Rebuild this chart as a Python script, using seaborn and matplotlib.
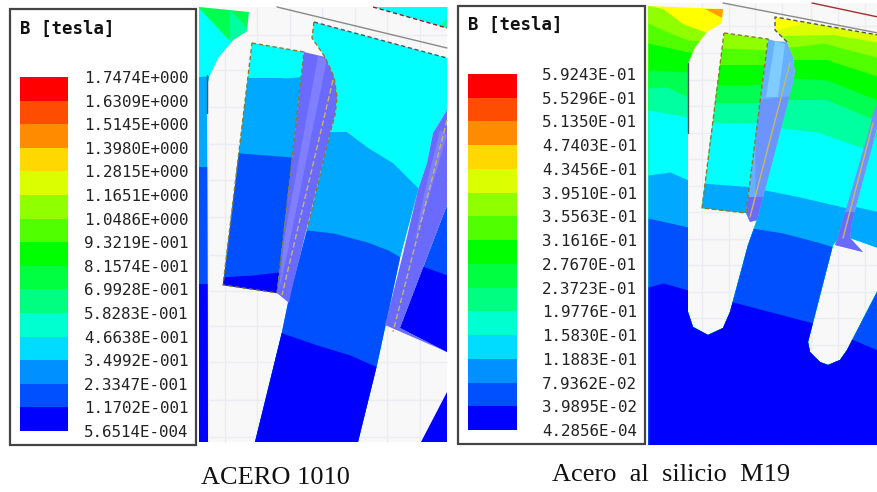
"""Campo B [tesla] en ranura de motor: ACERO 1010 contra acero al silicio M19."""

import numpy as np
import matplotlib
matplotlib.use("Agg")
import matplotlib.pyplot as plt
from matplotlib.colors import BoundaryNorm, ListedColormap
from matplotlib.patches import Polygon, Rectangle
import seaborn as sns

W, H = 878, 492

# ─── leyendas ────────────────────────────────────────────────
LEFT_LABELS = ["1.7474E+000", "1.6309E+000", "1.5145E+000", "1.3980E+000", "1.2815E+000",
               "1.1651E+000", "1.0486E+000", "9.3219E-001", "8.1574E-001", "6.9928E-001",
               "5.8283E-001", "4.6638E-001", "3.4992E-001", "2.3347E-001", "1.1702E-001",
               "5.6514E-004"]
RIGHT_LABELS = ["5.9243E-01", "5.5296E-01", "5.1350E-01", "4.7403E-01", "4.3456E-01",
                "3.9510E-01", "3.5563E-01", "3.1616E-01", "2.7670E-01", "2.3723E-01",
                "1.9776E-01", "1.5830E-01", "1.1883E-01", "7.9362E-02", "3.9895E-02",
                "4.2856E-04"]
LEGEND_COLORS = ["#ff0000", "#ff4d00", "#ff8c00", "#ffd800", "#dcff00", "#90ff00", "#50ff00",
                 "#00ff00", "#00ff40", "#00ff80", "#00ffd0", "#00dcff", "#0090ff", "#0050ff",
                 "#0000ff"]

# colores de banda en el campo
FIELD = ["#0000ff", "#0050ff", "#00a8ff", "#00ffff", "#00ffa0", "#00ff50", "#00ff00",
         "#50ff00", "#90ff00", "#dcff00", "#ffff00", "#ffa000"]

# ─── panel izquierdo ─────────────────────────────────────────
L_GRID_X = [208, 225, 257, 290, 322, 355, 387, 420]
L_GRID_Y = [35, 70, 107, 144, 180, 217, 255, 291, 326, 362, 400, 437]

L_STRIP = [(199, 7), (249, 12), (247, 31), (233, 40), (218, 58), (209, 77), (207, 87), (207, 113),
           (208, 442), (199, 442)]
L_STRIP_BANDS = [(5, [195, 260], [0, 0]),
                 (4, [230, 250], [10, 31]),
                 (3, [199, 227, 250], [8, 38, 60]),
                 (2, [195, 215], [77, 75]),
                 (1, [195, 215], [167, 167]),
                 (0, [195, 215], [284, 284])]

L_TOOTH = [(314, 22), (312, 38), (325, 57), (334, 77), (337, 97), (335, 115), (330, 133), (307, 230),
           (289, 298), (282, 332), (255, 442), (358, 442), (377, 365), (400, 258), (418, 190),
           (427, 163), (433, 133), (447, 110), (447, 58)]
L_TOOTH_BANDS = [(3, [250, 450], [0, 0]),
                 (2, [250, 330, 347, 367, 393, 418, 450], [132, 132, 132, 147, 163, 188, 210]),
                 (1, [250, 307, 333, 367, 388, 402, 450], [226, 230, 233, 242, 250, 258, 275]),
                 (0, [250, 282, 317, 350, 377, 450], [320, 333, 345, 355, 367, 395])]

L_COIL = [(252, 43), (304, 52), (277, 293), (223, 285)]
L_COIL_BANDS = [(3, [220, 310], [0, 0]),
                (2, [220, 250, 283, 310], [78, 78, 78, 76]),
                (1, [220, 240, 292, 310], [153, 153, 157, 157]),
                (0, [220, 253, 278, 310], [277, 275, 272, 270])]

L_TOPRIGHT = [(373, 7), (447, 28), (447, 7)]
L_TOPRIGHT_BANDS = [(3, [370, 450], [0, 0]), (4, [436, 447], [28, 17])]

L_COIL2 = [(447, 205), (400, 328), (447, 352)]
L_COIL2_BANDS = [(1, [395, 450], [150, 150]), (0, [395, 425, 447], [258, 267, 275])]

L_CORNER = [(421, 442), (447, 392), (447, 442)]
L_CORNER_BANDS = [(0, [415, 450], [350, 350])]

L_WEDGE1 = [(304, 52), (325, 57), (334, 77), (337, 97), (335, 115), (330, 133), (291, 293),
            (289, 303), (277, 293)]
L_STRIPE1 = [(318, 56), (327, 59), (288, 250), (279, 290), (284, 240)]
L_WEDGE2 = [(447, 110), (433, 133), (427, 163), (418, 190), (402, 258), (385, 325), (447, 352),
            (400, 328), (447, 205)]
L_STRIPE2 = [(447, 135), (440, 130), (425, 190), (415, 240), (422, 220)]
L_AXIS1 = [(333, 80), (282, 295)]
L_AXIS2 = [(447, 120), (393, 332)]
L_EDGE_DARK = [(207, 75), (207, 113)]
L_AIRGAP = [(277, 7), (447, 48)]

# ─── panel derecho ───────────────────────────────────────────
R_GRID_X = [702, 729, 755, 782, 811, 838, 865]
R_GRID_Y = [26, 53, 80, 106, 133, 159, 186, 212, 239, 265, 292, 318, 345, 371, 398, 424]

R_IRON = [(648, 6), (723, 9), (722, 23), (707, 32), (695, 47), (688, 63), (688, 312), (693, 327),
          (708, 335), (723, 328), (730, 312), (748, 245), (757, 220), (793, 83), (795, 72), (793, 57),
          (787, 42), (775, 30), (775, 17), (878, 35), (878, 103), (873, 113), (870, 127), (837, 240),
          (833, 245), (808, 342), (810, 352), (820, 362), (828, 365), (840, 360), (847, 350),
          (878, 290), (878, 445), (648, 445)]
R_IRON_BANDS = [(10, [640, 880], [0, 0]),
                (9, [640, 707, 775, 803, 880], [40, 40, 30, 23, 23]),
                (8, [648, 663, 683, 707, 775, 785, 833, 880], [6, 9, 24, 33, 38, 36, 35, 43]),
                (7, [648, 663, 688, 793, 823, 880], [23, 30, 40, 47, 43, 58]),
                (6, [648, 688, 793, 827, 880], [43, 52, 60, 60, 77]),
                (5, [648, 688, 795, 827, 880], [70, 72, 78, 80, 101]),
                (4, [648, 667, 688, 790, 827, 880], [88, 87, 97, 100, 100, 122]),
                (3, [648, 688, 783, 817, 880], [110, 117, 128, 132, 154]),
                (2, [648, 670, 688, 765, 800, 843, 880], [175, 172, 180, 190, 197, 207, 218]),
                (1, [648, 688, 752, 783, 817, 837, 880], [218, 227, 228, 233, 242, 248, 263]),
                (0, [648, 663, 688, 733, 813, 880], [287, 283, 290, 302, 323, 351])]
R_ORANGE = [(705, 9), (723, 9), (722, 18)]
R_ORANGE_BANDS = [(11, [700, 725], [0, 0])]

R_COIL = [(724, 33), (768, 39), (746, 213), (702, 208)]
R_COIL_BANDS = [(8, [700, 770], [0, 0]),
                (7, [700, 770], [47, 50]),
                (6, [700, 770], [65, 65]),
                (5, [700, 770], [85, 85]),
                (4, [700, 770], [103, 103]),
                (3, [700, 770], [122, 123]),
                (2, [700, 770], [183, 188])]

R_COIL2 = [(878, 125), (852, 222), (850, 238), (878, 248)]
R_COIL2_BANDS = [(4, [848, 880], [0, 0]),
                 (3, [848, 880], [130, 140]),
                 (2, [848, 880], [205, 212])]

WEDGE_TONES = ["#6a6aff", "#6b94ff", "#66b0ff"]
R_WEDGE1 = [(768, 39), (775, 41), (787, 42), (793, 57), (795, 72), (793, 83), (757, 220),
            (750, 222), (746, 213)]
R_WEDGE1_BANDS = [(2, [740, 800], [0, 0]), (1, [755, 795], [100, 95]), (0, [740, 775], [197, 197])]
R_STRIPE1 = [(775, 41), (785, 44), (778, 97), (766, 97)]
R_WEDGE2 = [(878, 103), (873, 113), (870, 127), (837, 240), (835, 245), (863, 252), (850, 238),
            (852, 222), (878, 125)]
R_WEDGE2_BANDS = [(1, [830, 880], [0, 0]), (0, [830, 880], [212, 212])]
R_AXIS1 = [(790, 63), (750, 217)]
R_AXIS2 = [(873, 123), (843, 238)]
R_EDGE_DARK = [(688, 63), (688, 133)]
R_AIRGAP = [(723, 3), (878, 33)]
R_RED_LINE = [(812, 3), (878, 17)]


def paint(ax, outline, bands, colors=FIELD):
    clip = Polygon(outline, closed=True, transform=ax.transData)
    for idx, xs, ys in bands:
        coll = ax.fill_between(xs, ys, H + 10, color=colors[idx], linewidth=0)
        coll.set_clip_path(clip)


def outline_dashed(ax, pts, closed=True, color="#8a7a30"):
    pts = list(pts) + ([pts[0]] if closed else [])
    xs, ys = zip(*pts)
    ax.plot(xs, ys, color=color, lw=1, linestyle=(0, (3, 2)))


def seg(ax, pts, color, lw=1.0, ls="-", z=2):
    xs, ys = zip(*pts)
    ax.plot(xs, ys, color=color, lw=lw, linestyle=ls, zorder=z)


def legend_panel(fig, bg, labels, box, bar, pad, title_xy):
    x0, y0, x1, y1 = box
    bg.add_patch(Rectangle((x0, y0), x1 - x0, y1 - y0, fc="white", ec="#444444", lw=1.6))
    bg.text(title_xy[0], title_xy[1], "B [tesla]", family="DejaVu Sans Mono", weight="bold",
            fontsize=12.5, color="#111111", va="center", ha="left")

    bx0, by0, bx1, by1 = bar
    ax = fig.add_axes([bx0 / W, 1 - by1 / H, (bx1 - bx0) / W, (by1 - by0) / H])
    levels = np.array([float(s) for s in labels])
    mids = ((levels[:-1] + levels[1:]) / 2).reshape(-1, 1)
    sns.heatmap(mids, ax=ax, cbar=False, xticklabels=False, yticklabels=False,
                cmap=ListedColormap(LEGEND_COLORS[::-1]),
                norm=BoundaryNorm(levels[::-1], len(LEGEND_COLORS)))
    ax.yaxis.tick_right()
    ax.set_yticks(np.arange(len(labels)))
    ax.set_yticklabels(labels, rotation=0, family="DejaVu Sans Mono", fontsize=11.4, color="#222222")
    ax.tick_params(axis="y", length=0, pad=pad)


sns.set_theme(style="white")
fig = plt.figure(figsize=(W / 100, H / 100), dpi=100, facecolor="white")
bg = fig.add_axes([0, 0, 1, 1])
bg.set_xlim(0, W)
bg.set_ylim(H, 0)
bg.axis("off")

# panel izquierdo
bg.add_patch(Rectangle((199, 7), 248, 435, fc="#f8f8f8", ec="none", zorder=0.1))
bg.vlines(L_GRID_X, 7, 442, color="#ecedf2", lw=1, zorder=0.2)
bg.hlines(L_GRID_Y, 199, 447, color="#ecedf2", lw=1, zorder=0.2)
seg(bg, L_AIRGAP, "#8a8a8a", z=0.3)
paint(bg, L_STRIP, L_STRIP_BANDS)
paint(bg, L_TOPRIGHT, L_TOPRIGHT_BANDS)
paint(bg, L_TOOTH, L_TOOTH_BANDS)
paint(bg, L_CORNER, L_CORNER_BANDS)
paint(bg, L_COIL, L_COIL_BANDS)
paint(bg, L_COIL2, L_COIL2_BANDS)
for wedge in (L_WEDGE1, L_WEDGE2):
    bg.add_patch(Polygon(wedge, closed=True, fc=WEDGE_TONES[0], ec="none"))
for stripe in (L_STRIPE1, L_STRIPE2):
    bg.add_patch(Polygon(stripe, closed=True, fc="#7f7fff", ec="none"))
outline_dashed(bg, L_COIL)
outline_dashed(bg, L_TOOTH[:8], closed=False)
outline_dashed(bg, [L_TOOTH[0], L_TOOTH[-1]], closed=False, color="#555555")
outline_dashed(bg, L_TOPRIGHT[:2], closed=False, color="#8a2020")
seg(bg, L_AXIS1, "#c8b860", ls=(0, (4, 2)))
seg(bg, L_AXIS2, "#c8b860", ls=(0, (4, 2)))
seg(bg, L_EDGE_DARK, "#555555")

# panel derecho
bg.add_patch(Rectangle((648, 3), 230, 442, fc="#f8f8f8", ec="none", zorder=0.1))
bg.vlines(R_GRID_X, 3, 445, color="#ecedf2", lw=1, zorder=0.2)
bg.hlines(R_GRID_Y, 648, 878, color="#ecedf2", lw=1, zorder=0.2)
seg(bg, R_AIRGAP, "#8a8a8a", z=0.3)
seg(bg, R_RED_LINE, "#a03030", z=0.3)
paint(bg, R_IRON, R_IRON_BANDS)
paint(bg, R_ORANGE, R_ORANGE_BANDS)
paint(bg, R_COIL, R_COIL_BANDS)
paint(bg, R_COIL2, R_COIL2_BANDS)
paint(bg, R_WEDGE1, R_WEDGE1_BANDS, WEDGE_TONES)
paint(bg, R_WEDGE2, R_WEDGE2_BANDS, WEDGE_TONES)
bg.add_patch(Polygon(R_STRIPE1, closed=True, fc="#80ccff", ec="none"))
outline_dashed(bg, R_COIL)
outline_dashed(bg, R_IRON[16:20], closed=False, color="#555555")
seg(bg, R_AXIS1, "#c8b860")
seg(bg, R_AXIS2, "#c8b860")
seg(bg, R_EDGE_DARK, "#555555")

# leyendas
legend_panel(fig, bg, LEFT_LABELS, (10, 9, 196, 445), (20, 77, 68, 431), 11.5, (20, 29))
legend_panel(fig, bg, RIGHT_LABELS, (458, 6, 645, 444), (468, 74, 517, 430), 18, (468, 25))

# pies de figura
bg.text(275.5, 478, "ACERO 1010", family="Liberation Serif", fontsize=19, color="#111111",
        ha="center", va="center")
bg.text(671, 475, "Acero  al  silicio  M19", family="Liberation Serif", fontsize=19, color="#111111",
        ha="center", va="center")

fig.savefig("out.png", dpi=100)
